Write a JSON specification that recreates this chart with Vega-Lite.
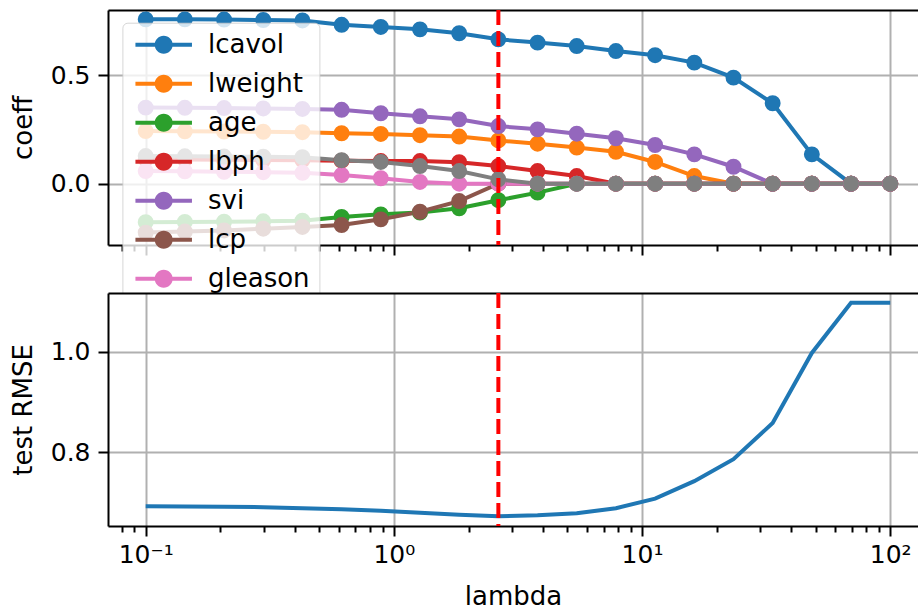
{
  "$schema": "https://vega.github.io/schema/vega-lite/v6.json",
  "autosize": {"type": "pad"},
  "padding": {"left": 10, "top": 8, "right": 0, "bottom": 0},
  "background": "white",
  "bounds": "flush",
  "config": {
    "view": {"stroke": null},
    "font": "DejaVu Sans",
    "axis": {
      "domainColor": "black", "domainWidth": 2,
      "tickColor": "black", "tickWidth": 2,
      "gridColor": "#b0b0b0", "gridWidth": 2,
      "labelFont": "DejaVu Sans", "labelFontSize": 25, "labelColor": "black",
      "titleFont": "DejaVu Sans", "titleFontSize": 26, "titleFontWeight": "normal", "titleColor": "black"
    }
  },
  "datasets": {
    "d": [
      {"lambda": 0.1, "lcavol": 0.756, "lweight": 0.242, "age": -0.177, "lbph": 0.112, "svi": 0.350, "lcp": -0.225, "gleason": 0.058, "pgg45": 0.127, "rmse": 0.692},
      {"lambda": 0.1438, "lcavol": 0.756, "lweight": 0.241, "age": -0.176, "lbph": 0.111, "svi": 0.349, "lcp": -0.220, "gleason": 0.057, "pgg45": 0.126, "rmse": 0.6915},
      {"lambda": 0.2069, "lcavol": 0.755, "lweight": 0.240, "age": -0.175, "lbph": 0.110, "svi": 0.348, "lcp": -0.215, "gleason": 0.055, "pgg45": 0.125, "rmse": 0.691},
      {"lambda": 0.2976, "lcavol": 0.753, "lweight": 0.239, "age": -0.173, "lbph": 0.109, "svi": 0.346, "lcp": -0.207, "gleason": 0.053, "pgg45": 0.124, "rmse": 0.690},
      {"lambda": 0.4281, "lcavol": 0.751, "lweight": 0.237, "age": -0.170, "lbph": 0.108, "svi": 0.344, "lcp": -0.199, "gleason": 0.050, "pgg45": 0.122, "rmse": 0.688},
      {"lambda": 0.6158, "lcavol": 0.731, "lweight": 0.232, "age": -0.153, "lbph": 0.106, "svi": 0.340, "lcp": -0.190, "gleason": 0.040, "pgg45": 0.108, "rmse": 0.686},
      {"lambda": 0.8859, "lcavol": 0.721, "lweight": 0.229, "age": -0.141, "lbph": 0.104, "svi": 0.324, "lcp": -0.164, "gleason": 0.025, "pgg45": 0.100, "rmse": 0.683},
      {"lambda": 1.2743, "lcavol": 0.710, "lweight": 0.223, "age": -0.133, "lbph": 0.104, "svi": 0.310, "lcp": -0.129, "gleason": 0.008, "pgg45": 0.081, "rmse": 0.679},
      {"lambda": 1.833, "lcavol": 0.692, "lweight": 0.217, "age": -0.113, "lbph": 0.099, "svi": 0.296, "lcp": -0.080, "gleason": 0, "pgg45": 0.058, "rmse": 0.675},
      {"lambda": 2.6367, "lcavol": 0.664, "lweight": 0.199, "age": -0.076, "lbph": 0.081, "svi": 0.265, "lcp": 0, "gleason": 0, "pgg45": 0.020, "rmse": 0.672},
      {"lambda": 3.7927, "lcavol": 0.649, "lweight": 0.184, "age": -0.041, "lbph": 0.058, "svi": 0.250, "lcp": 0, "gleason": 0, "pgg45": 0, "rmse": 0.674},
      {"lambda": 5.4556, "lcavol": 0.633, "lweight": 0.166, "age": 0, "lbph": 0.035, "svi": 0.230, "lcp": 0, "gleason": 0, "pgg45": 0, "rmse": 0.678},
      {"lambda": 7.8476, "lcavol": 0.610, "lweight": 0.147, "age": 0, "lbph": 0, "svi": 0.209, "lcp": 0, "gleason": 0, "pgg45": 0, "rmse": 0.688},
      {"lambda": 11.2884, "lcavol": 0.591, "lweight": 0.100, "age": 0, "lbph": 0, "svi": 0.178, "lcp": 0, "gleason": 0, "pgg45": 0, "rmse": 0.707},
      {"lambda": 16.2378, "lcavol": 0.557, "lweight": 0.035, "age": 0, "lbph": 0, "svi": 0.135, "lcp": 0, "gleason": 0, "pgg45": 0, "rmse": 0.742},
      {"lambda": 23.3572, "lcavol": 0.488, "lweight": 0, "age": 0, "lbph": 0, "svi": 0.078, "lcp": 0, "gleason": 0, "pgg45": 0, "rmse": 0.786},
      {"lambda": 33.5982, "lcavol": 0.370, "lweight": 0, "age": 0, "lbph": 0, "svi": 0, "lcp": 0, "gleason": 0, "pgg45": 0, "rmse": 0.858},
      {"lambda": 48.3293, "lcavol": 0.135, "lweight": 0, "age": 0, "lbph": 0, "svi": 0, "lcp": 0, "gleason": 0, "pgg45": 0, "rmse": 0.998},
      {"lambda": 69.5193, "lcavol": 0, "lweight": 0, "age": 0, "lbph": 0, "svi": 0, "lcp": 0, "gleason": 0, "pgg45": 0, "rmse": 1.098},
      {"lambda": 100, "lcavol": 0, "lweight": 0, "age": 0, "lbph": 0, "svi": 0, "lcp": 0, "gleason": 0, "pgg45": 0, "rmse": 1.098}
    ],
    "best": [{"best_lambda": 2.6367}]
  },
  "spacing": 48,
  "resolve": {"scale": {"color": "independent"}, "legend": {"color": "independent"}},
  "vconcat": [
    {
      "width": 810,
      "height": 235,
      "data": {"name": "d"},
      "transform": [{"fold": ["lcavol", "lweight", "age", "lbph", "svi", "lcp", "gleason", "pgg45"], "as": ["feature", "coef"]}],
      "layer": [
        {
          "mark": {"type": "line", "strokeWidth": 4},
          "encoding": {
            "x": {"field": "lambda", "type": "quantitative",
              "scale": {"type": "log", "domain": [0.07049, 129.4], "nice": false},
              "axis": {"orient": "bottom", "title": null, "labels": false,
                "values": [0.08, 0.09, 0.1, 0.2, 0.3, 0.4, 0.5, 0.6, 0.7, 0.8, 0.9, 1, 2, 3, 4, 5, 6, 7, 8, 9, 10, 20, 30, 40, 50, 60, 70, 80, 90, 100],
                "tickSize": {"condition": {"test": "indexof([0.1, 1, 10, 100], datum.value) >= 0", "value": 10}, "value": 6},
                "gridOpacity": {"condition": {"test": "indexof([0.1, 1, 10, 100], datum.value) >= 0", "value": 1}, "value": 0}
              }},
            "y": {"field": "coef", "type": "quantitative",
              "scale": {"domain": [-0.282, 0.799], "nice": false, "zero": false},
              "axis": {"values": [0, 0.5], "format": ".1f", "title": "coeff", "tickSize": 10, "labelPadding": 8, "titlePadding": 14}},
            "color": {"field": "feature", "type": "nominal",
              "scale": {"domain": ["lcavol", "lweight", "age", "lbph", "svi", "lcp", "gleason", "pgg45"],
                "range": ["#1f77b4", "#ff7f0e", "#2ca02c", "#d62728", "#9467bd", "#8c564b", "#e377c2", "#7f7f7f"]},
              "legend": {
                "orient": "none", "legendX": 14.4, "legendY": 12.7, "title": null,
                "symbolType": "M-3.14,-0.22 L3.14,-0.22 L3.14,0.22 L-3.14,0.22 Z M1,0 A1,1 0 1,1 -1,0 A1,1 0 1,1 1,0 Z",
                "symbolSize": 324, "symbolStrokeWidth": 0, "symbolOpacity": 1, "symbolOffset": 19.3,
                "labelFont": "DejaVu Sans", "labelFontSize": 26, "labelColor": "black", "labelOffset": 31.3, "labelLimit": 0,
                "rowPadding": 13, "padding": 9,
                "fillColor": "rgba(255,255,255,0.8)", "strokeColor": "rgba(204,204,204,0.8)", "cornerRadius": 5
              }}
          }
        },
        {
          "mark": {"type": "point", "filled": true, "size": 254, "opacity": 1},
          "encoding": {
            "x": {"field": "lambda", "type": "quantitative",
              "axis": {"orient": "top", "title": null, "labels": false, "ticks": false, "grid": false, "domain": true}},
            "y": {"field": "coef", "type": "quantitative"},
            "color": {"field": "feature", "type": "nominal"}
          }
        },
        {
          "data": {"name": "best"},
          "mark": {"type": "rule", "color": "red", "strokeWidth": 4, "strokeDash": [15, 6]},
          "encoding": {
            "x": {"field": "best_lambda", "type": "quantitative", "axis": null}
          }
        }
      ],
      "resolve": {"axis": {"x": "independent"}}
    },
    {
      "width": 810,
      "height": 233,
      "view": {"fill": "white", "stroke": null},
      "data": {"name": "d"},
      "layer": [
        {
          "mark": {"type": "line", "strokeWidth": 4, "color": "#1f77b4"},
          "encoding": {
            "x": {"field": "lambda", "type": "quantitative",
              "scale": {"type": "log", "domain": [0.07049, 129.4], "nice": false},
              "axis": {"orient": "bottom", "title": "lambda", "titlePadding": 16, "labelPadding": 6,
                "values": [0.08, 0.09, 0.1, 0.2, 0.3, 0.4, 0.5, 0.6, 0.7, 0.8, 0.9, 1, 2, 3, 4, 5, 6, 7, 8, 9, 10, 20, 30, 40, 50, 60, 70, 80, 90, 100],
                "labelExpr": "datum.value == 0.1 ? '10⁻¹' : datum.value == 1 ? '10⁰' : datum.value == 10 ? '10¹' : datum.value == 100 ? '10²' : ''",
                "tickSize": {"condition": {"test": "indexof([0.1, 1, 10, 100], datum.value) >= 0", "value": 10}, "value": 6},
                "gridOpacity": {"condition": {"test": "indexof([0.1, 1, 10, 100], datum.value) >= 0", "value": 1}, "value": 0}
              }},
            "y": {"field": "rmse", "type": "quantitative",
              "scale": {"domain": [0.6525, 1.1176], "nice": false, "zero": false},
              "axis": {"values": [0.8, 1.0], "format": ".1f", "title": "test RMSE", "tickSize": 10, "labelPadding": 8, "titlePadding": 14}}
          }
        },
        {
          "data": {"name": "best"},
          "mark": {"type": "rule", "color": "red", "strokeWidth": 4, "strokeDash": [15, 6]},
          "encoding": {
            "x": {"field": "best_lambda", "type": "quantitative",
              "axis": {"orient": "top", "title": null, "labels": false, "ticks": false, "grid": false, "domain": true}}
          }
        }
      ],
      "resolve": {"axis": {"x": "independent"}}
    }
  ]
}
